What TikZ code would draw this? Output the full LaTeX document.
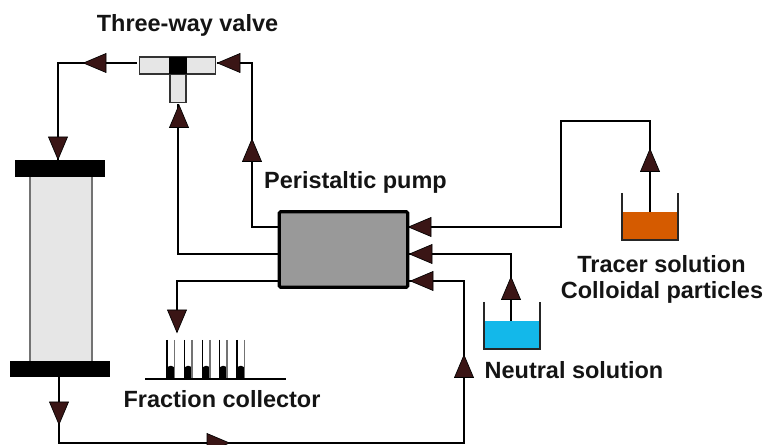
\documentclass[tikz,border=0pt]{standalone}
\usepackage{fontspec}
\setmainfont{Liberation Sans}
\definecolor{tipbrown}{HTML}{3A1515}
\definecolor{pumpgray}{HTML}{999999}
\definecolor{palegray}{HTML}{E6E6E6}
\definecolor{tracer}{HTML}{D55B00}
\definecolor{neutral}{HTML}{13B8EA}
\tikzset{
  pipe/.style={draw=black,line width=1.2pt},
  lab/.style={font=\fontsize{17.6pt}{20pt}\selectfont\bfseries,inner sep=0pt,anchor=center,text=black!92},
  blackbar/.style={fill=black,draw=none,inner sep=0pt,outer sep=0pt},
  valvepart/.style={fill=palegray,draw=black!80,line width=0.9pt},
  flowtip/.pic={\fill[tipbrown,draw=black,line width=0.5pt,line join=miter] (-11,-9.5)--(11.5,0)--(-11,9.5)--cycle;},
  beakerwall/.style={draw=black!85,line width=0.9pt},
  tubewall/.style={line width=0.8pt},
}
\begin{document}
\begin{tikzpicture}[x=0.75pt,y=-0.75pt]
\useasboundingbox (0,0) rectangle (765,445);
\clip (0,0) rectangle (765,445);

% column
\fill[palegray] (30,177) rectangle (92,361);
\draw[black!55,line width=0.8pt] (30,177)--(30,361) (92,177)--(92,361);
\node[blackbar,minimum width=67.5pt,minimum height=12.75pt] (coltop) at (60,168.5) {};
\node[blackbar,minimum width=75pt,minimum height=12pt] (colbot) at (60,369) {};

% pump
\node[fill=pumpgray,draw=black,line width=2.4pt,rounded corners=1pt,minimum width=96.5pt,minimum height=56.5pt,inner sep=0pt,outer sep=0pt] (pump) at (343.5,249.5) {};

% connector ends
\coordinate (va) at (137,63);
\coordinate (vb) at (217,63);
\coordinate (vc) at (178,104);
\coordinate (ta) at (58,63);
\coordinate (tb) at (252,63);
\coordinate (pa) at (278,227);
\coordinate (pb) at (278,254);
\coordinate (pc) at (278,281);
\coordinate (pd) at (408,227);
\coordinate (pe) at (409,254);
\coordinate (pf) at (409,281);
\coordinate (coin) at (58,160);
\coordinate (collect) at (177,332);
\coordinate (cola) at (59,377);
\coordinate (corner1) at (59,443);
\coordinate (corner2) at (464,443);
\coordinate (trsrc) at (650,212);
\coordinate (nesrc) at (511,321);

% pipes
\draw[pipe] (va) -| (coin);
\draw[pipe] (vb) -- (tb) -- (252,227) -- (pa);
\draw[pipe] (vc) -- (178,254) -- (pb);
\draw[pipe] (pc) -- (177,281) -- (collect);
\draw[pipe] (pd) -- (561,227) -- (561,121) -- (650,121) -- (trsrc);
\draw[pipe] (pe) -- (511,254) -- (nesrc);
\draw[pipe] (pf) -- (464,281) -- (corner2) -- (corner1) -- (cola);

% valve
\node[valvepart,minimum width=57.5pt,minimum height=12.75pt,inner sep=0pt,outer sep=0pt] (valve) at (177.5,65.5) {};
\node[valvepart,minimum width=12pt,minimum height=21.5pt,inner sep=0pt,outer sep=0pt] (valvestem) at (178,88.5) {};
\node[blackbar,minimum width=13.5pt,minimum height=12.75pt] (valvecore) at (177.5,65.5) {};

% flow arrows
\pic[rotate=180] at (95,63) {flowtip};
\pic[rotate=180] at (229,63) {flowtip};
\pic[rotate=-90] at (58,148) {flowtip};
\pic[rotate=90] at (179,116.5) {flowtip};
\pic[rotate=90] at (252,150.5) {flowtip};
\pic[rotate=-90] at (177,321) {flowtip};
\pic[rotate=180] at (420,227) {flowtip};
\pic[rotate=180] at (421,254) {flowtip};
\pic[rotate=180] at (422,281) {flowtip};
\pic[rotate=90] at (650,160.5) {flowtip};
\pic[rotate=90] at (511,288.5) {flowtip};
\pic[rotate=90] at (464,366.5) {flowtip};
\pic[rotate=-90] at (59,413) {flowtip};
\pic at (218,443) {flowtip};

% tracer beaker
\fill[tracer] (622,212) rectangle (678,240);
\draw[beakerwall] (622,193)--(622,240)--(678,240)--(678,193);
% neutral beaker
\fill[neutral] (484,321) rectangle (540,349);
\draw[beakerwall] (484,302)--(484,349)--(540,349)--(540,302);

% fraction collector
\draw[black,line width=1.1pt] (145,379)--(286,379);
\foreach \tx in {167,184.5,202.5,219.5,237}{
  \fill[black,rounded corners=2.2pt] (\tx,366) rectangle (\tx+7.5,379);
  \draw[tubewall,black] (\tx,340)--(\tx,378);
  \draw[tubewall,black!55] (\tx+7.5,340)--(\tx+7.5,378);
}

% labels
\node[lab] (l1) at (187.5,25) {Three-way valve};
\node[lab] (l2) at (355.5,182) {Peristaltic pump};
\node[lab] (l3) at (661.5,264) {Tracer solution};
\node[lab] (l4) at (662,292) {Colloidal particles};
\node[lab] (l5) at (574,370) {Neutral solution};
\node[lab] (l6) at (222,399) {Fraction collector};
\end{tikzpicture}
\end{document}
